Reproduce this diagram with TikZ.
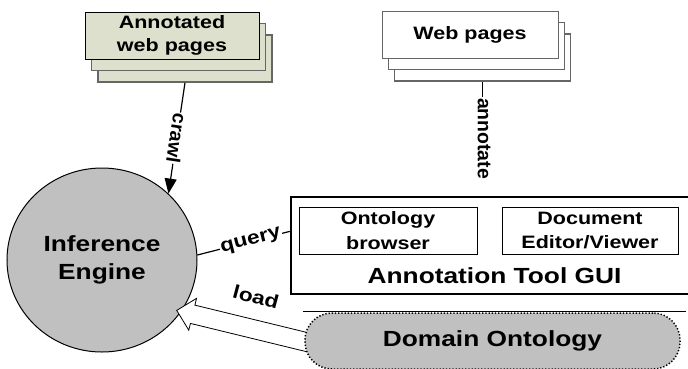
\documentclass[tikz,border=0pt]{standalone}
\usepackage{fontspec}
\newfontfamily\wsans[FakeStretch=1.2]{Liberation Sans}
\newfontfamily\nsans{Liberation Sans}
\usetikzlibrary{shapes,arrows.meta,positioning}

\definecolor{pagegreen}{RGB}{221,224,204}
\definecolor{blobgray}{RGB}{192,192,192}

\tikzset{
	page/.style={draw=black,line width=1bp,minimum width=174bp,minimum height=47bp,inner sep=0pt,align=center,font=\wsans\bfseries\fontsize{18}{23}\selectfont},
	innerbox/.style={draw=black,line width=.8bp,minimum width=176bp,minimum height=47bp,inner sep=0pt,align=center,font=\wsans\bfseries\fontsize{18}{25}\selectfont},
	bigtxt/.style={align=center,font=\wsans\bfseries\fontsize{22}{28}\selectfont},
	blob/.style={bigtxt,fill=blobgray},
	lbl/.style={font=\wsans\bfseries\fontsize{19}{22}\selectfont,inner sep=1bp},
	vlbl/.style={font=\nsans\bfseries\fontsize{19.5}{22}\selectfont,fill=white,inner sep=1bp}
}

\begin{document}
\begin{tikzpicture}[x=1bp,y=-1bp]
		\useasboundingbox (0,0) rectangle (688,368);
		\clip (0,0) rectangle (688,368);
		\foreach \s in {3,2} {
			\node[page,fill=pagegreen,draw=black!60,line width=1.4bp] (annot\s) at (172+6.5*\s-6.5,35.5+11.5*\s-11.5) {};
			\node[page,fill=white,draw=black!60,line width=1.2bp,minimum width=176bp] (web\s) at (470+6.25*\s-6.25,34.5+11.5*\s-11.5) {};
		}
		\node[page,fill=pagegreen] (annot1) at (172,35.5) {Annotated\\web pages};
		\node[page,fill=white,draw=black!60,minimum width=176bp] (web1) at (470,34.5) {Web pages};
		\node[blob,ellipse,draw,line width=1bp,minimum width=190bp,minimum height=184bp,inner sep=0pt] (ie) at (102,260) {Inference\\Engine};
		\node[draw,line width=2.5bp,minimum width=401bp,minimum height=97bp] (gui) at (491.5,245.5) {};
		\node[innerbox,minimum width=178bp] (ontbrowse) at (388,230.5) {Ontology\\browser};
		\node[innerbox] (docview) at (590,230.5) {Document\\Editor/Viewer};
		\node[bigtxt] (guiname) at (494.5,276) {Annotation Tool GUI};
		\coordinate (loadtail) at (327,347);
		\path (loadtail) -- node[sloped,allow upside down,single arrow,draw,fill=white,line width=.8bp,minimum height=150bp,inner xsep=0pt,inner ysep=9bp,single arrow head extend=7bp] (loadarrow) {} (ie.-33);
		\draw[line width=1bp] (303,311.5) -- (686,311.5);
		\node[blob,draw=black,rounded corners=27bp,dash pattern=on 1.3bp off 1.9bp,line width=1.5bp,minimum width=375bp,minimum height=56bp] (onto) at (492.5,341) {Domain Ontology};
		\node[lbl,rotate=-15] (loadlbl) at (256,297) {load};
		\draw[line width=1.2bp,-{Triangle[length=15bp,width=12bp]}] (annot3.south) -- node[vlbl,sloped,allow upside down] {crawl} (ie.45);
		\node[vlbl,rotate=-90] (annotlbl) at (484,138.5) {annotate};
		\draw[line width=1.2bp] (web3.south) -- (web3.south |- annotlbl.west);
		\draw[line width=1.2bp] (ie.3) -- node[lbl,fill=white,sloped,pos=0.58] {query} (gui.176);
	\end{tikzpicture}
\end{document}
